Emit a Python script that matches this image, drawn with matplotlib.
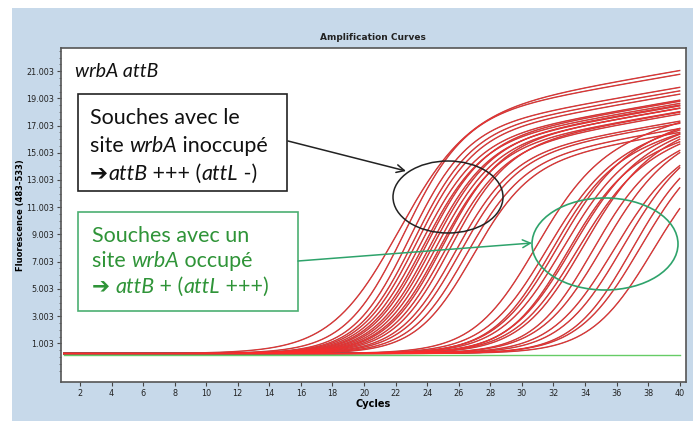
import numpy as np
import matplotlib
matplotlib.use("Agg")
import matplotlib.pyplot as plt
from matplotlib.patches import Ellipse, Rectangle

# curve parameters:
# ct = cycle of the steep rise, plateau = level reached after the rise (RFU),
# k = width of the rise (cycles), drift = slow late increase (RFU per cycle)
early_ct = [22.0, 22.4, 22.7, 23.0, 23.2, 23.4, 23.6, 23.8, 24.0, 24.2, 24.4, 24.6, 24.8, 25.0, 25.3, 25.6, 25.9, 26.3, 26.7]
early_plateau = [17200, 17000, 16100, 15900, 15700, 15300, 15100, 15300, 15000, 15100, 14900, 14700, 15000, 14600, 14800, 14200, 14100, 13800, 13600]
early_k = [2.2, 1.9, 1.8, 1.8, 1.8, 1.8, 1.8, 1.8, 1.8, 1.8, 1.8, 1.8, 1.8, 1.8, 1.8, 1.8, 1.8, 1.8, 1.8]
early_drift = 200

late_ct = [30.6, 31.3, 31.6, 32.0, 32.3, 32.6, 32.9, 33.2, 33.6, 34.2, 34.8, 35.5, 36.1, 36.7, 37.2, 38.0]
late_plateau = [14500, 14200, 14000, 14600, 14300, 13800, 14400, 14000, 14600, 14000, 14400, 14000, 14500, 14200, 14400, 14000]
late_k = [2.0, 2.0, 1.9, 2.0, 2.0, 1.9, 2.0, 2.0, 2.0, 1.9, 2.0, 2.0, 2.0, 1.9, 2.0, 2.0]
late_drift = 280

baseline = 250
threshold = 120
cycles = np.linspace(1, 40, 400)

yticks = [1003, 3003, 5003, 7003, 9003, 11003, 13003, 15003, 17003, 19003, 21003]
ytick_labels = ["1.003", "3.003", "5.003", "7.003", "9.003", "11.003", "13.003", "15.003", "17.003", "19.003", "21.003"]
xticks = list(range(2, 41, 2))

W, H = 693, 421
fig = plt.figure(figsize=(W / 100, H / 100), dpi=100)
fig.patch.set_facecolor("white")

# blue panel behind the chart
bg = fig.add_axes([0, 0, 1, 1])
bg.set_xlim(0, W); bg.set_ylim(H, 0); bg.axis("off")
bg.add_patch(Rectangle((12, 8), W - 12, H - 8, facecolor="#c7d9ea", edgecolor="none"))

ax = fig.add_axes([61 / W, (H - 382) / H, (686 - 61) / W, (382 - 48) / H])
ax.set_facecolor("white")

def amp(ct, plateau, k, drift):
    rise = 1 / (1 + np.exp(-(cycles - ct) / k))
    return baseline + (plateau + drift * (cycles - ct)) * rise

curves = [(c, p, k, early_drift) for c, p, k in zip(early_ct, early_plateau, early_k)]
curves += [(c, p, k, late_drift) for c, p, k in zip(late_ct, late_plateau, late_k)]
for ct, p, k, d in curves:
    y = amp(ct, p, k, d)
    ax.plot(cycles, y, color="#b04545", lw=1.0, zorder=2)
    ax.plot(cycles, y, color="#ff2a2a", lw=0.4, zorder=3)

ax.plot([1, 40], [threshold, threshold], color="#66cc66", lw=1, zorder=4)

ax.set_xlim(0.8, 40.4)
ax.set_ylim(-1840, 22700)
ax.set_xticks(xticks)
ax.set_yticks(yticks)
ax.set_yticklabels(ytick_labels)
ax.set_yticks(np.arange(-1000, 22700, 500), minor=True)
tickfam = ["Liberation Sans Narrow", "DejaVu Sans"]
for lab in ax.get_xticklabels() + ax.get_yticklabels():
    lab.set_fontfamily(tickfam)
    lab.set_fontsize(6.5)
    lab.set_fontstretch("condensed")
ax.tick_params(length=3, width=0.8, color="#444444", pad=2, labelcolor="#222222")
ax.tick_params(which="minor", length=1.5, width=0.6, color="#666666")
for s in ax.spines.values():
    s.set_color("#555555")
    s.set_linewidth(1.2)
ax.set_xlabel("Cycles", fontsize=7, weight="bold", family=tickfam, labelpad=1)
ax.set_ylabel("Fluorescence (483-533)", fontsize=6, weight="bold", family=tickfam)
ax.yaxis.set_label_coords(-0.058, 0.5)

# overlay for title, boxes and hand-drawn annotations (pixel coordinates)
ov = fig.add_axes([0, 0, 1, 1], zorder=10)
ov.set_xlim(0, W); ov.set_ylim(H, 0); ov.axis("off")
ov.patch.set_alpha(0)

ov.text(373, 37, "Amplification Curves", ha="center", va="center", fontsize=6.5, weight="bold",
        family=["DejaVu Sans"], color="#222222")

renderer = fig.canvas.get_renderer()
fam = ["Lato", "DejaVu Sans"]

def rich(x, y, parts, size, color):
    for txt, style, weight in parts:
        t = ov.text(x, y, txt, fontsize=size, style=style, weight=weight, color=color,
                    family=fam, va="baseline", ha="left")
        x += t.get_window_extent(renderer).width

rich(75, 77, [("wrbA attB", "italic", "normal")], 14, "#111111")

black_txt = "#111111"
green_txt = "#2f9438"
ov.add_patch(Rectangle((78, 94), 209, 97, facecolor="white", edgecolor="#222222", lw=1.2))
rich(90, 124, [("Souches avec le", "normal", "normal")], 15.5, black_txt)
rich(90, 152, [("site ", "normal", "normal"), ("wrbA", "italic", "normal"), (" inoccupé", "normal", "normal")], 15.5, black_txt)
rich(90, 180, [("➔", "normal", "bold"), ("attB", "italic", "normal"), (" +++ (", "normal", "normal"),
               ("attL", "italic", "normal"), (" -)", "normal", "normal")], 15.5, black_txt)

ov.add_patch(Rectangle((78, 212), 220, 99, facecolor="white", edgecolor="#4caf72", lw=1.2))
rich(92, 242, [("Souches avec un", "normal", "normal")], 15.5, green_txt)
rich(92, 267, [("site ", "normal", "normal"), ("wrbA", "italic", "normal"), (" occupé", "normal", "normal")], 15.5, green_txt)
rich(92, 293, [("➔ ", "normal", "bold"), ("attB", "italic", "normal"), (" + (", "normal", "normal"),
               ("attL", "italic", "normal"), (" +++)", "normal", "normal")], 15.5, green_txt)

ov.annotate("", xy=(406, 171), xytext=(288, 141),
            arrowprops=dict(arrowstyle="->", color="#222222", lw=1.1, mutation_scale=14, shrinkA=0, shrinkB=0))
ov.annotate("", xy=(532, 243), xytext=(298, 261),
            arrowprops=dict(arrowstyle="->", color="#2ea36b", lw=1.1, mutation_scale=14, shrinkA=0, shrinkB=0))
ov.add_patch(Ellipse((448, 197), 110, 72, facecolor="none", edgecolor="#222222", lw=1.1))
ov.add_patch(Ellipse((605, 244), 146, 92, facecolor="none", edgecolor="#2ea36b", lw=1.2))

fig.savefig("out.png", dpi=100)
